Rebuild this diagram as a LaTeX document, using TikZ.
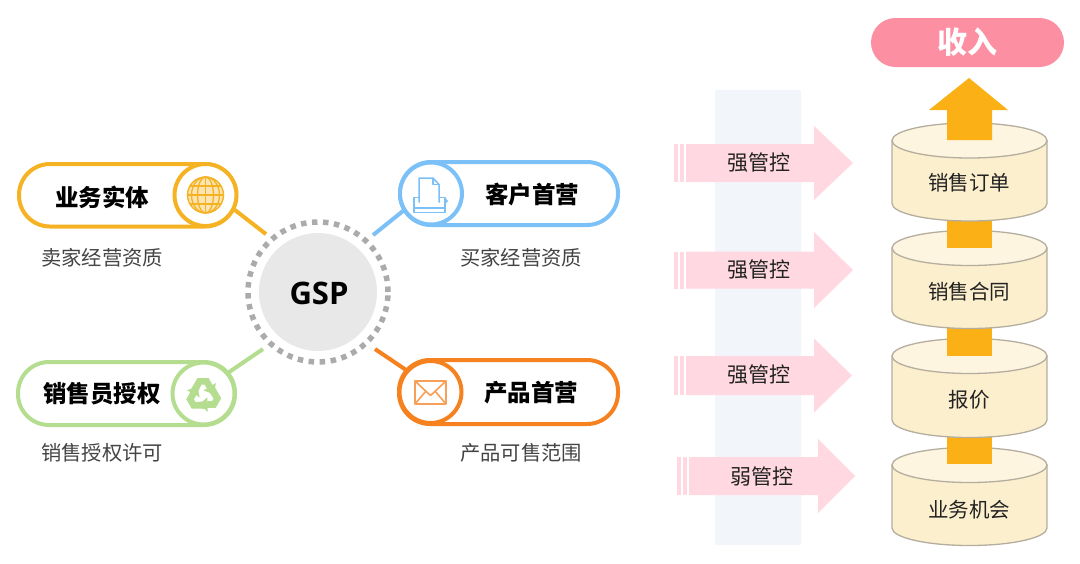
\documentclass[tikz,border=0pt]{standalone}
\usepackage{fontspec}
\setmainfont{Noto Sans CJK SC}
\newfontfamily\gspfont{Open Sans}
\usetikzlibrary{calc}
\definecolor{cyellow}{HTML}{F5B223}
\definecolor{cblue}{HTML}{7CC0F8}
\definecolor{cgreen}{HTML}{B5DD8F}
\definecolor{corange}{HTML}{F5811F}
\definecolor{cdisc}{HTML}{E8E8E8}
\definecolor{cdot}{HTML}{ABABAB}
\definecolor{cband}{HTML}{F2F5F9}
\definecolor{cpink}{HTML}{FFD8E1}
\definecolor{cpill}{HTML}{FC8FA2}
\definecolor{cbody}{HTML}{FCEFCD}
\definecolor{ctop}{HTML}{FDF5DF}
\definecolor{cedge}{HTML}{B5AE9F}
\definecolor{carrow}{HTML}{FBB116}
\definecolor{ctext}{HTML}{222222}
\definecolor{csub}{HTML}{444444}
\newcommand{\fs}[1]{\fontsize{#1}{#1}\selectfont}
\tikzset{
  x=1pt,y=-1pt,
  pillbox/.style={line width=4pt,draw=#1,fill=white,rounded corners=31pt},
  iconring/.style={circle,draw=#1,fill=white,line width=4pt,minimum size=62pt,inner sep=0pt},
  headline/.style={font=\fs{23.5}\bfseries,text=black,inner sep=0pt},
  subline/.style={font=\fs{20.3},text=csub,inner sep=0pt},
  link/.style={line width=4pt,draw=#1},
  cyltext/.style={font=\fs{20.5},text=ctext,inner sep=0pt},
  pinktext/.style={font=\fs{21},text=ctext,inner sep=0pt},
  cylside/.style={fill=cbody,draw=cedge,line width=1.3pt},
  cyltop/.style={fill=ctop,draw=cedge,line width=1.3pt},
  flowbar/.style={fill=carrow,draw=none},
}
% #1 tail x, #2 centre y, #3 body half height, #4 head start x, #5 tip x, #6 head half height
\newcommand{\pinkarrow}[6]{%
  \fill[cpink] (#1,#2-#3) rectangle (#1+4.5,#2+#3);
  \fill[cpink] (#1+6.5,#2-#3) rectangle (#1+10,#2+#3);
  \fill[cpink] (#1+12.5,#2-#3) -- (#4,#2-#3) -- (#4,#2-#6) -- (#5,#2) -- (#4,#2+#6) -- (#4,#2+#3) -- (#1+12.5,#2+#3) -- cycle;
}
% #1 top ellipse y, #2 bottom ellipse y
\newcommand{\cylbody}[2]{%
  \path[cylside] (892,#1) -- (892,#2) arc[start angle=180,end angle=360,x radius=77.5pt,y radius=17.5pt] -- (1047,#1) -- cycle;
  \path[cyltop] (969.5,#1) ellipse[x radius=77.5pt,y radius=17.5pt];
}
\begin{document}
\begin{tikzpicture}
\useasboundingbox (0,0) rectangle (1080,563);
\fill[white] (0,0) rectangle (1080,563);

% ---------- GSP hub ----------
\fill[cdisc] (318,292) circle[radius=59pt];
\draw[cdot,line width=5.5pt,dash pattern=on 5.5pt off 5.55pt] (318,292) circle[radius=70pt];
\node[circle,minimum size=158pt,inner sep=0pt,font=\gspfont\fs{31}\bfseries,text=black] (gsp) at (319,293) {GSP};

% ---------- pills ----------
\draw[pillbox=cyellow] (19,164) rectangle (236,226.5);
\draw[pillbox=cgreen] (18,362) rectangle (235,425);
\draw[pillbox=cblue] (400,162) rectangle (618,225);
\draw[pillbox=corange] (399,360) rectangle (618,424);

\node[iconring=cyellow] (ring1) at (205.5,195) {};
\node[iconring=cgreen]  (ring3) at (203.5,393.5) {};
\node[iconring=cblue]   (ring2) at (431,193.5) {};
\node[iconring=corange] (ring4) at (430.5,392) {};

\draw[link=cyellow] (ring1.-27) -- (gsp.132);
\draw[link=cblue]   (ring2.212) -- (gsp.47.5);
\draw[link=cgreen]  (ring3.40)  -- (gsp.225);
\draw[link=corange] (ring4.138) -- (gsp.-45);

% ---------- icons ----------
% globe
\begin{scope}[shift={(205.5,195)}]
  \fill[cyellow!35] (0,0) circle[radius=18pt];
  \draw[cyellow,line width=1.4pt] (0,0) circle[radius=18pt];
  \draw[cyellow,line width=1.3pt] (0,-18) -- (0,18) (-18,0) -- (18,0) (-15.5,-9) -- (15.5,-9) (-15.5,9) -- (15.5,9);
  \draw[cyellow,line width=1.3pt] (0,0) ellipse[x radius=8pt,y radius=18pt];
  \draw[cyellow,line width=1.3pt] (0,0) ellipse[x radius=14pt,y radius=18pt];
\end{scope}
% recycle
\begin{scope}[shift={(203.5,395)}]
  \foreach \a in {0,120,240}{
    \begin{scope}[rotate=\a]
      \fill[cgreen] (-13,-5) -- (-6,-17) -- (5,-17) -- (9,-10) -- (12.5,-12) -- (10,-1) -- (0,-4.5) -- (3.5,-6.5) -- (1,-10.5) -- (-2,-10.5) -- (-6,-2.5) -- cycle;
    \end{scope}
  }
\end{scope}
% printer
\begin{scope}[shift={(431,193.5)},cblue,line width=1.5pt,line join=round]
  \draw[fill=white] (-17,4) rectangle (14,19);
  \draw (-17,14.5) -- (14,14.5);
  \fill (14,4) -- (17,7.5) -- (14,11) -- cycle;
  \draw[fill=white] (-12,9) -- (-12,-15.5) -- (2,-15.5) -- (8,-9) -- (8,9);
  \draw (2,-15.5) -- (2,-9) -- (8,-9);
\end{scope}
% envelope
\begin{scope}[shift={(430.5,392.5)},corange!75!white,line width=1.6pt,line join=round]
  \draw (-15.5,-11.5) rectangle (15.5,11.5);
  \draw (-15.5,-11.5) -- (0,3) -- (15.5,-11.5);
  \draw (-15.5,11.5) -- (-4.5,-1.5) (15.5,11.5) -- (4.5,-1.5);
\end{scope}

% ---------- left labels ----------
\node[headline] (t1) at (102,197) {业务实体};
\node[headline] (t2) at (532,195) {客户首营};
\node[headline] (t3) at (102,394) {销售员授权};
\node[headline] (t4) at (531,393) {产品首营};
\node[subline] (s1) at (102,257.5) {卖家经营资质};
\node[subline] (s2) at (521,257.5) {买家经营资质};
\node[subline] (s3) at (102,453) {销售授权许可};
\node[subline] (s4) at (521,453) {产品可售范围};

% ---------- control band and arrows ----------
\fill[cband,rounded corners=2pt] (715,90) rectangle (801,545);
\pinkarrow{673.5}{163}{19}{814}{853}{37}
\pinkarrow{673.5}{270}{18.5}{814}{853}{38}
\pinkarrow{673.5}{375.5}{19.5}{814}{852}{37}
\pinkarrow{676.5}{476}{19}{818}{855}{37}
\node[pinktext] (c1) at (759,163) {强管控};
\node[pinktext] (c2) at (759,270) {强管控};
\node[pinktext] (c3) at (759,375) {强管控};
\node[pinktext] (c4) at (762,476) {弱管控};

% ---------- stack ----------
\cylbody{465}{528}
\fill[flowbar] (947,464) rectangle (992,430);
\cylbody{356}{420}
\fill[flowbar] (947,356) rectangle (992,320);
\cylbody{248}{311}
\fill[flowbar] (947,248) rectangle (992,210);
\cylbody{140.5}{203.5}
\fill[flowbar] (947,140) -- (947,110) -- (929,110) -- (969,78) -- (1008,110) -- (992,110) -- (992,140) -- cycle;
\node[cyltext] (b1) at (969,183) {销售订单};
\node[cyltext] (b2) at (969,292) {销售合同};
\node[cyltext] (b3) at (969,400) {报价};
\node[cyltext] (b4) at (969,510) {业务机会};

% ---------- revenue ----------
\node[rounded corners=24.5pt,fill=cpill,minimum width=193pt,minimum height=49pt,inner sep=0pt,font=\fs{30}\bfseries,text=white] (rev) at (967.5,42.5) {收入};
\end{tikzpicture}
\end{document}
